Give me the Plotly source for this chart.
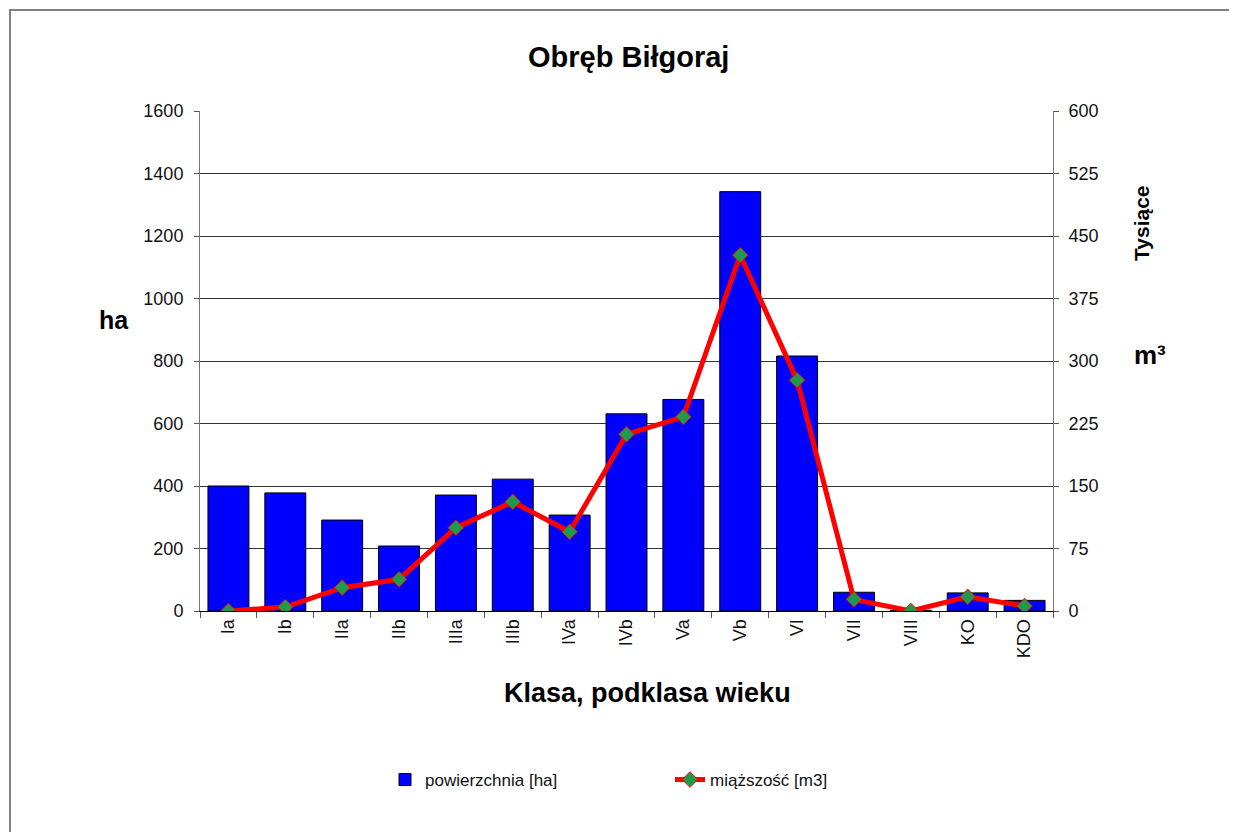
import plotly.graph_objects as go

categories = ["Ia", "Ib", "IIa", "IIb", "IIIa", "IIIb", "IVa", "IVb", "Va", "Vb", "VI", "VII", "VIII", "KO", "KDO"]
area_ha = [400, 378, 291, 208, 371, 422, 307, 631, 677, 1342, 816, 60, 2, 58, 34]
volume_k_m3 = [0, 4.8, 28, 38, 100, 131, 95, 212, 233, 427, 277, 14, 0, 17, 6]
left_ticks = [0, 200, 400, 600, 800, 1000, 1200, 1400, 1600]
right_ticks = [0, 75, 150, 225, 300, 375, 450, 525, 600]

FONT = "Arial, Liberation Sans, sans-serif"

fig = go.Figure()
fig.add_trace(go.Bar(
    x=categories, y=area_ha, name="powierzchnia [ha]",
    marker=dict(color="#0000FF", line=dict(color="#000000", width=1)),
    yaxis="y",
))
fig.add_trace(go.Scatter(
    x=categories, y=volume_k_m3, name="miąższość [m3]",
    mode="lines+markers",
    line=dict(color="#FF0000", width=5),
    marker=dict(symbol="diamond", size=12, color="#1F9A4A", line=dict(color="#FF0000", width=1)),
    yaxis="y2",
))

OFF = 8  # page body margin
W, H = 1237 - OFF, 832 - OFF
L, T = 200 - OFF, 111 - OFF
pw, ph = 853, 500
R, B = W - L - pw, H - T - ph

def px(x):
    return (x - OFF - L) / pw

def py(y):
    return (T + ph - (y - OFF)) / ph

fig.update_layout(
    width=W, height=H,
    margin=dict(l=L, r=R, t=T, b=B, pad=0),
    paper_bgcolor="white", plot_bgcolor="white",
    font=dict(family=FONT, size=18, color="#111111"),
    bargap=0.28,
    showlegend=True,
    legend=dict(
        orientation="h", x=px(385), xanchor="left", y=py(780), yanchor="middle",
        font=dict(size=17, color="#111111"), entrywidth=240, entrywidthmode="pixels",
        bgcolor="rgba(0,0,0,0)",
    ),
    xaxis=dict(
        type="category", range=[-0.5, 14.5], showline=True, linecolor="#000000", linewidth=1,
        ticks="outside", ticklen=6, tickcolor="#555555", tickson="boundaries",
        tickangle=-90, showgrid=False, tickfont=dict(size=18),
    ),
    yaxis=dict(
        range=[0, 1600], tickvals=left_ticks, showline=True, linecolor="#777777", linewidth=1,
        ticks="outside", ticklen=5, tickcolor="#555555",
        showgrid=True, gridcolor="#333333", gridwidth=1, zeroline=False,
        tickfont=dict(size=18), ticklabelstandoff=7,
    ),
    yaxis2=dict(
        range=[0, 600], tickvals=right_ticks, overlaying="y", side="right",
        showline=True, linecolor="#777777", linewidth=1,
        ticks="outside", ticklen=5, tickcolor="#555555",
        showgrid=False, zeroline=False, tickfont=dict(size=18), ticklabelstandoff=6,
    ),
    annotations=[
        dict(text="<b>Obręb Biłgoraj</b>", x=px(628), y=py(57), xref="paper", yref="paper",
             showarrow=False, font=dict(size=29, color="#000000"), xanchor="center", yanchor="middle"),
        dict(text="<b>Klasa, podklasa wieku</b>", x=px(647), y=py(693), xref="paper", yref="paper",
             showarrow=False, font=dict(size=27, color="#000000"), xanchor="center", yanchor="middle"),
        dict(text="<b>ha</b>", x=px(114), y=py(320), xref="paper", yref="paper",
             showarrow=False, font=dict(size=25, color="#000000"), xanchor="center", yanchor="middle"),
        dict(text="<b>Tysiące</b>", x=px(1141), y=py(223), xref="paper", yref="paper",
             showarrow=False, textangle=-90, font=dict(size=21, color="#000000"),
             xanchor="center", yanchor="middle"),
        dict(text="<b>m³</b>", x=px(1150), y=py(355), xref="paper", yref="paper",
             showarrow=False, font=dict(size=26, color="#000000"), xanchor="center", yanchor="middle"),
    ],
    shapes=[
        dict(type="rect", xref="paper", yref="paper",
             x0=px(10), x1=px(1250), y0=py(850), y1=py(10),
             line=dict(color="#808080", width=2), fillcolor="rgba(0,0,0,0)", layer="below"),
    ],
)

fig.write_html("out.html")
